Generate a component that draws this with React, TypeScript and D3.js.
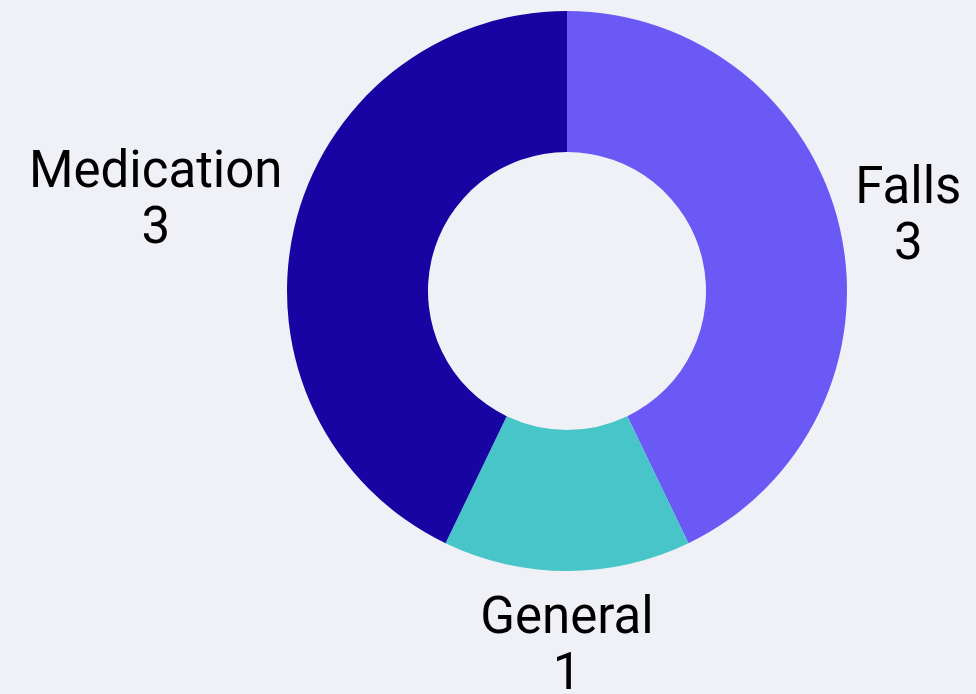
import React, { useEffect, useRef } from 'react';
import * as d3 from 'd3';

const categories = ['Falls', 'General', 'Medication'];
const counts = [3, 1, 3];
const colors = ['#6a59f5', '#47c5c9', '#1804a2'];

const width = 976;
const height = 694;

export default function App() {
  const ref = useRef<SVGSVGElement>(null);

  useEffect(() => {
    document.body.style.margin = '0';
    document.body.style.background = '#f0f1f7';
    const svg = d3.select(ref.current);
    svg.selectAll('*').remove();

    const cx = 567;
    const cy = 291;
    const outer = 280;
    const inner = 139;

    const data = categories.map((c, i) => ({ label: c, value: counts[i], color: colors[i] }));
    const pie = d3.pie<any>().value((d) => d.value).sort(null);
    const arc = d3.arc<any>().innerRadius(inner).outerRadius(outer);
    const arcs = pie(data);

    const g = svg.append('g').attr('transform', `translate(${cx},${cy})`);
    g.selectAll('path')
      .data(arcs)
      .enter()
      .append('path')
      .attr('d', arc)
      .attr('fill', (d) => d.data.color);

    // labels: anchor point outside the ring, then push the text block out so it just clears
    const lineH = 56;
    arcs.forEach((a) => {
      const mid = (a.startAngle + a.endAngle) / 2;
      const sx = Math.sin(mid);
      const sy = -Math.cos(mid);
      const labelR = 285 + 10 * sy * sy;
      const t = g.append('text')
        .attr('text-anchor', 'middle')
        .attr('font-family', 'Roboto')
        .attr('font-size', 51)
        .attr('fill', '#000');
      t.append('tspan').attr('x', 0).attr('dy', 0).text(a.data.label);
      t.append('tspan').attr('x', 0).attr('dy', lineH).text(String(a.data.value));
      const bb = (t.node() as SVGTextElement).getBBox();
      const hw = bb.width / 2;
      const hh = bb.height / 2;
      const push = hw * Math.abs(sx) + hh * Math.abs(sy);
      const bx = (labelR + push) * sx;
      const by = (labelR + push) * sy;
      const dy = by - (bb.y + hh);
      t.attr('transform', `translate(${bx},${dy})`);
    });
  }, []);

  return <svg ref={ref} width={width} height={height} style={{ display: 'block', background: '#f0f1f7' }} />;
}
